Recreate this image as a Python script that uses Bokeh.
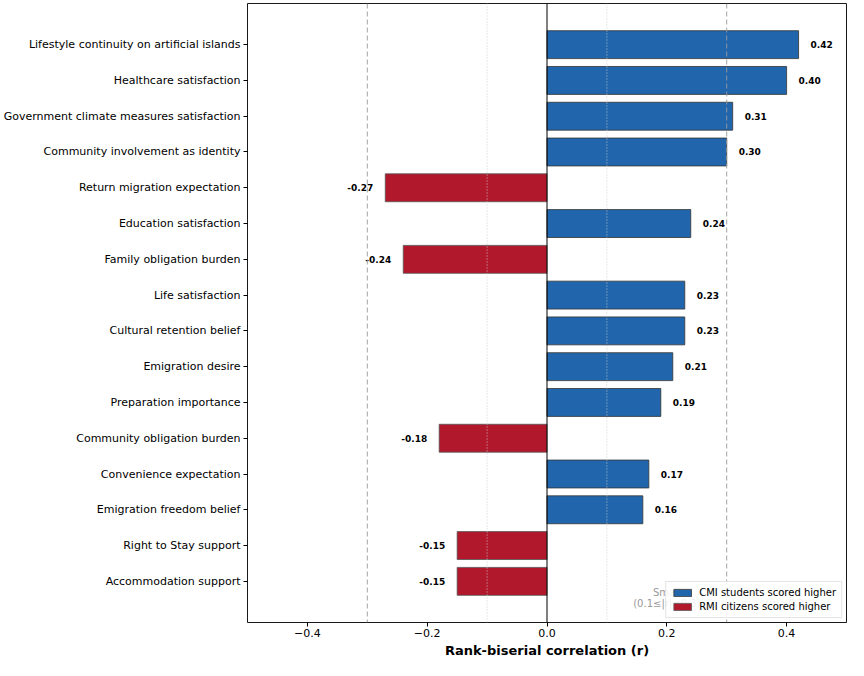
from bokeh.plotting import figure
from bokeh.models import (ColumnDataSource, FactorRange, FixedTicker, Span, Legend, LegendItem)
from bokeh.core.properties import value
from bokeh.embed import file_html
from bokeh.resources import INLINE

# ---- data (top to bottom as shown) ----
categories = [
    "Lifestyle continuity on artificial islands",
    "Healthcare satisfaction",
    "Government climate measures satisfaction",
    "Community involvement as identity",
    "Return migration expectation",
    "Education satisfaction",
    "Family obligation burden",
    "Life satisfaction",
    "Cultural retention belief",
    "Emigration desire",
    "Preparation importance",
    "Community obligation burden",
    "Convenience expectation",
    "Emigration freedom belief",
    "Right to Stay support",
    "Accommodation support",
]
r_values = [0.42, 0.40, 0.31, 0.30, -0.27, 0.24, -0.24, 0.23, 0.23, 0.21, 0.19, -0.18, 0.17, 0.16, -0.15, -0.15]
x_ticks = [-0.4, -0.2, 0.0, 0.2, 0.4]
x_tick_labels = ["\u22120.4", "\u22120.2", "0.0", "0.2", "0.4"]
SMALL = 0.1
LARGE = 0.3
LABEL_OFFSET = 0.02
legend_labels = ["CMI students scored higher", "RMI citizens scored higher"]
BLUE = "#2166ac"
RED = "#b2182b"
FONT = "DejaVu Sans"

factors = list(reversed(categories))

pos = [(c, r) for c, r in zip(categories, r_values) if r >= 0]
neg = [(c, r) for c, r in zip(categories, r_values) if r < 0]

src_pos = ColumnDataSource(dict(
    cat=[c for c, _ in pos], r=[r for _, r in pos],
    lx=[r + LABEL_OFFSET for _, r in pos], txt=[f"{r:.2f}" for _, r in pos]))
src_neg = ColumnDataSource(dict(
    cat=[c for c, _ in neg], r=[r for _, r in neg],
    lx=[r - LABEL_OFFSET for _, r in neg], txt=[f"{r:.2f}" for _, r in neg]))

yr = FactorRange(factors=factors, range_padding=0.65, range_padding_units="absolute")

p = figure(width=848, height=660, y_range=yr, x_range=(-0.5, 0.5),
           output_backend="svg", toolbar_location=None,
           min_border_left=0, min_border_right=2, min_border_top=3, min_border_bottom=0)

p.xgrid.visible = False
p.ygrid.visible = False
p.outline_line_color = "black"
p.outline_line_width = 1
p.outline_line_alpha = 0.9

rb = p.hbar(y="cat", right="r", left=0, height=0.78, source=src_pos,
            fill_color=BLUE, line_color="#333333", line_width=0.8)
rr = p.hbar(y="cat", right="r", left=0, height=0.78, source=src_neg,
            fill_color=RED, line_color="#555555", line_width=0.8)

p.text(x="lx", y="cat", text="txt", source=src_pos, text_font=value(FONT),
       text_font_size="9px", text_font_style="bold", text_align="left",
       text_baseline="middle", text_color="black")
p.text(x="lx", y="cat", text="txt", source=src_neg, text_font=value(FONT),
       text_font_size="9px", text_font_style="bold", text_align="right",
       text_baseline="middle", text_color="black")

# effect size reference lines
for xv in (-LARGE, LARGE):
    p.add_layout(Span(location=xv, dimension="height", line_color="#999999",
                      line_dash="5 3", line_width=1, line_alpha=0.9))
for xv in (-SMALL, SMALL):
    p.add_layout(Span(location=xv, dimension="height", line_color="#cccccc",
                      line_dash="1 2", line_width=1, line_alpha=0.9))
p.add_layout(Span(location=0, dimension="height", line_color="black", line_width=1))

# effect size annotations (bottom, mostly hidden by legend)
mid_small = (SMALL + LARGE) / 2
mid_large = LARGE + 0.1
ann = ColumnDataSource(dict(
    x=[mid_small, mid_small, mid_large, mid_large],
    y=[0.2, -0.13, 0.2, -0.13],
    t=["Small", "(0.1\u2264|r|<0.3)", "Large", "(|r|\u22650.3)"]))
p.text(x="x", y="y", text="t", source=ann, text_font=value(FONT),
       text_font_size="10px", text_color="#999999", text_align="center",
       text_baseline="middle")

legend = Legend(items=[LegendItem(label=legend_labels[0], renderers=[rb]),
                       LegendItem(label=legend_labels[1], renderers=[rr])],
                location="bottom_right", label_text_font=FONT,
                label_text_font_size="10px", label_text_color="black",
                glyph_width=22, glyph_height=9,
                label_standoff=6, spacing=3, padding=5, margin=4,
                border_line_color="#cccccc", background_fill_alpha=0.85,
                label_height=11)
p.add_layout(legend)

p.xaxis.ticker = FixedTicker(ticks=x_ticks)
p.xaxis.major_label_overrides = {t: l for t, l in zip(x_ticks, x_tick_labels)}
p.xaxis.axis_label = "Rank-biserial correlation (r)"
p.xaxis.axis_label_text_font = FONT
p.xaxis.axis_label_text_font_style = "bold"
p.xaxis.axis_label_text_font_size = "13px"
p.xaxis.axis_label_text_color = "black"
p.xaxis.axis_label_standoff = 3
p.xaxis.major_label_text_font = FONT
p.xaxis.major_label_text_font_size = "11px"
p.xaxis.major_label_text_color = "black"
p.xaxis.minor_tick_line_color = None
p.xaxis.axis_line_color = None
p.xaxis.major_tick_out = 4
p.xaxis.major_tick_in = 0
p.xaxis.major_label_standoff = 2

p.yaxis.major_label_text_font = FONT
p.yaxis.major_label_text_font_size = "11px"
p.yaxis.major_label_text_color = "black"
p.yaxis.axis_line_color = None
p.yaxis.major_tick_out = 4
p.yaxis.major_tick_in = 0
p.yaxis.major_label_standoff = 3

open("out.html", "w").write(file_html(p, INLINE))
